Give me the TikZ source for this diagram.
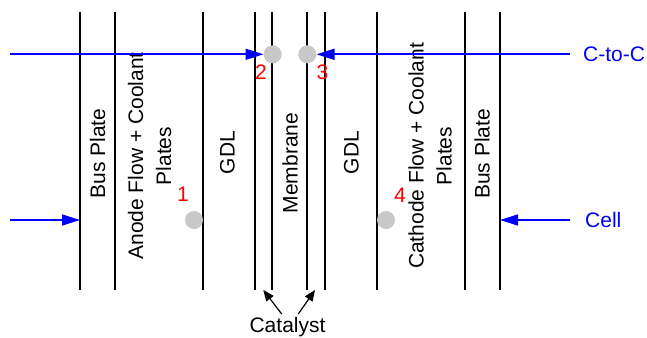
\documentclass[tikz,border=0pt]{standalone}
\usepackage{fontspec}
\setmainfont{Liberation Sans}
\usetikzlibrary{arrows.meta}
\definecolor{flowblue}{RGB}{0,0,255}
\definecolor{probe}{RGB}{200,200,200}
\definecolor{marknum}{RGB}{255,0,0}
\begin{document}
\begin{tikzpicture}[x=1pt,y=-1pt,
  layer/.style={draw=black,line width=1.2pt},
  lbl/.style={rotate=90,inner sep=0pt,font=\fontsize{21}{28}\selectfont,align=center},
  dot/.style={circle,fill=probe,minimum size=18pt,inner sep=0pt},
  num/.style={inner sep=0pt,text=marknum,font=\fontsize{21}{25}\selectfont},
  path label/.style={inner sep=0pt,text=flowblue,font=\fontsize{21}{25}\selectfont,anchor=west},
  flow/.style={draw=flowblue,line width=1.6pt,-{Triangle[length=18pt,width=11pt]}},
  pointer/.style={draw=black,line width=1.2pt,-{Triangle[length=11pt,width=9pt]}}]
\useasboundingbox (0,0) rectangle (647,337);

% layer boundaries of the cell stack
\foreach \x in {80,115,203,255,272,307,325,377,465,500}
  \draw[layer] (\x,12) -- (\x,290);

% layer names
\node[lbl] (busA) at (97.5,153.5) {Bus Plate};
\node[lbl] (flowA) at (149.5,156) {Anode Flow + Coolant\\Plates};
\node[lbl] (gdlA) at (227.5,152.5) {GDL};
\node[lbl] (mem) at (290,163) {Membrane};
\node[lbl] (gdlC) at (351.5,152.5) {GDL};
\node[lbl] (flowC) at (430,156) {Cathode Flow + Coolant\\Plates};
\node[lbl] (busC) at (482,154) {Bus Plate};

% measurement points
\node[dot] (p1) at (194,220) {};
\node[dot] (p2) at (272.7,54.3) {};
\node[dot] (p3) at (307.3,54.3) {};
\node[dot] (p4) at (386,220) {};
\node[num] (n1) at (183,194.5) {1};
\node[num] (n2) at (261,72.5) {2};
\node[num] (n3) at (322.5,72) {3};
\node[num] (n4) at (400,195) {4};

% voltage taps
\coordinate (ccL) at (10,54.3);
\coordinate (ccR) at (570,54.3);
\coordinate (cellL) at (10,220);
\coordinate (cellR) at (570,220);
\coordinate (busAedge) at (80,220);
\coordinate (busCedge) at (500,220);
\draw[flow] (ccL) -- (p2.west);
\draw[flow] (ccR) -- (p3.east);
\draw[flow] (cellL) -- (busAedge);
\draw[flow] (cellR) -- (busCedge);
\node[path label] (cc) at (583,54.3) {C-to-C};
\node[path label] (cell) at (585,220) {Cell};

% catalyst layers
\node[inner sep=0pt,anchor=base,font=\fontsize{21}{25}\selectfont] (cat) at (287.5,332.3) {Catalyst};
\coordinate (catL) at (281.7,314);
\coordinate (catR) at (298.3,314);
\coordinate (tipL) at (263.3,290);
\coordinate (tipR) at (315,290);
\draw[pointer] (catL) -- (tipL);
\draw[pointer] (catR) -- (tipR);
\end{tikzpicture}
\end{document}
